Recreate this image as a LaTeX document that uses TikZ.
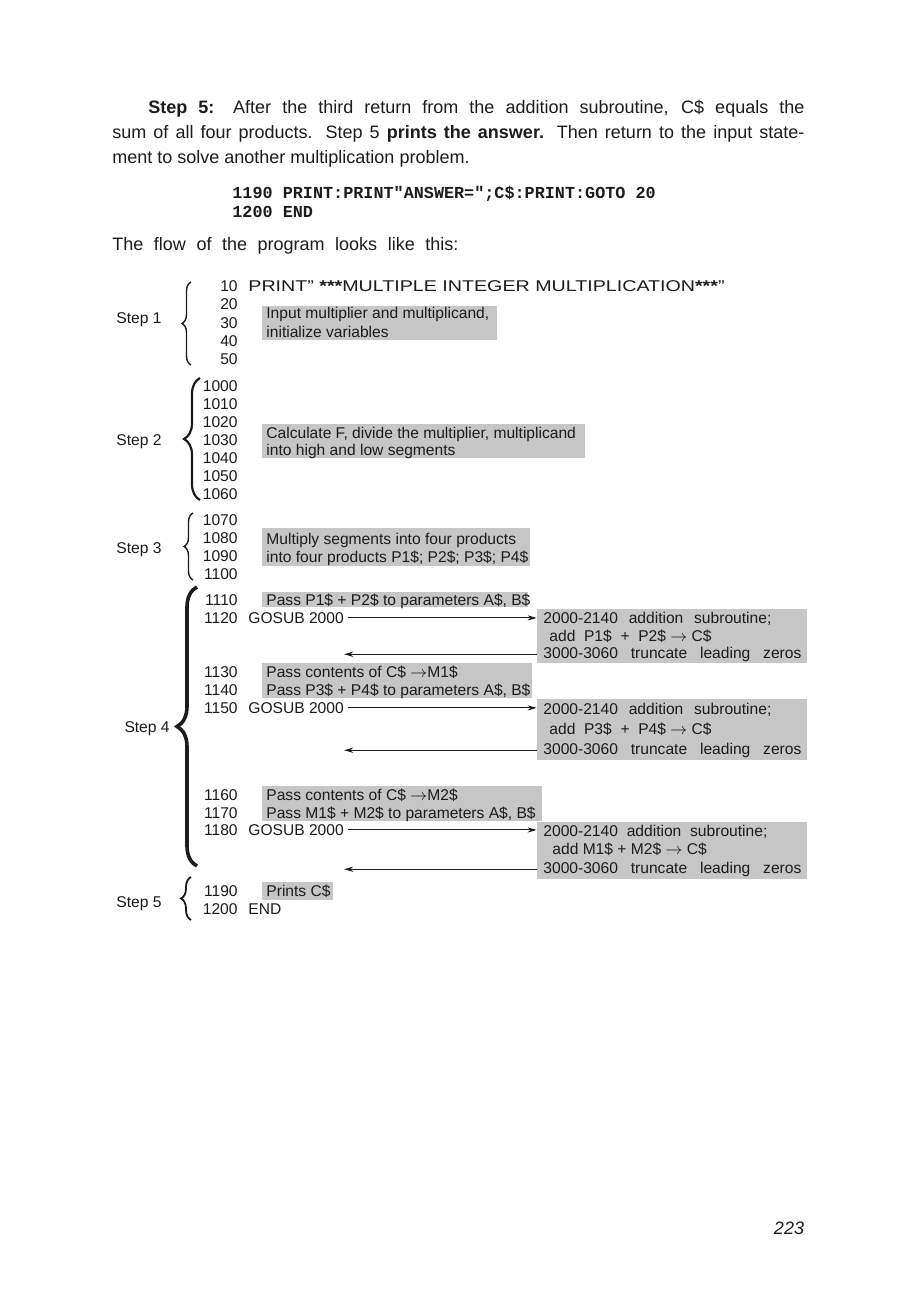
\documentclass[tikz,border=0pt]{standalone}
\usepackage{fontspec}
\setmainfont{Liberation Sans}
\setmonofont{Liberation Mono}
\usetikzlibrary{arrows.meta,positioning,calc,fit,backgrounds,decorations.pathreplacing}
\definecolor{ToneGray}{RGB}{198,198,198}
\definecolor{InkBlack}{RGB}{28,28,28}
\newcommand{\rowfont}{\fontsize{7.8}{9}\selectfont}
\tikzset{
  lnum/.style={anchor=mid east, inner sep=0pt, font=\rowfont, text=InkBlack},
  stmt/.style={anchor=mid west, inner sep=0pt, font=\rowfont, text=InkBlack},
  steplabel/.style={anchor=mid east, inner sep=0pt, font=\rowfont, text=InkBlack},
  tone/.style={fill=ToneGray, draw=none, inner sep=0pt},
  curly/.style={decorate, decoration={brace, amplitude=#1}, draw=InkBlack, line width=0.7pt},
  call/.style={-{Stealth[length=4.5pt,width=2.6pt]}, line width=0.55pt, InkBlack},
}

\begin{document}
\begin{tikzpicture}[x=0.5pt,y=-0.5pt]
  \useasboundingbox[fill=white] (0,0) rectangle (914,1310);

  % running text above the chart
  \node[anchor=north west, inner sep=0pt, text width=346pt, align=justify,
        font=\fontsize{9}{12.5}\selectfont, text=InkBlack] (para) at (112,100)
    {\hspace*{18pt}\textbf{Step 5:} After the third return from the addition subroutine, C\$ equals the\linebreak
     sum of all four products. Step 5 \textbf{prints the answer.} Then return to the input state-\linebreak
     ment to solve another multiplication problem.};
  \node[anchor=mid west, inner sep=0pt, text=InkBlack,
        font=\ttfamily\bfseries\fontsize{8.4}{9}\selectfont] (c1190) at (232,193)
    {1190 PRINT:PRINT"ANSWER=";C\$:PRINT:GOTO 20};
  \node[anchor=mid west, inner sep=0pt, text=InkBlack,
        font=\ttfamily\bfseries\fontsize{8.4}{9}\selectfont] (c1200) at (232,212)
    {1200 END};
  \node[anchor=mid west, inner sep=0pt, text=InkBlack,
        font=\fontsize{9}{12.5}\selectfont] (flow) at (112,245)
    {\makebox[173pt][s]{The flow of the program looks like this:}};

  % shaded comment boxes
  \node[tone, fit={(262,306) (497,340)}] (t1) {};
  \node[tone, fit={(262,424) (585,458)}] (t2) {};
  \node[tone, fit={(262,528) (530,566)}] (t3) {};
  \node[tone, fit={(262,592) (528,607)}] (t4) {};
  \node[tone, fit={(262,663) (532,698)}] (t5) {};
  \node[tone, fit={(262,786) (542,821)}] (t6) {};
  \node[tone, fit={(262,882) (333,900)}] (t7) {};
  \node[tone, fit={(537,609) (807,663)}] (r1) {};
  \node[tone, fit={(537,699) (807,760)}] (r2) {};
  \node[tone, fit={(537,822) (807,879)}] (r3) {};

  % line numbers
  \foreach \n/\y in {10/286, 20/304, 30/323, 40/341, 50/359,
                     1000/386, 1010/404, 1020/422, 1030/440, 1040/458, 1050/476, 1060/494,
                     1070/520, 1080/538, 1090/556, 1100/574,
                     1110/600, 1120/618, 1130/672, 1140/690, 1150/708,
                     1160/795, 1170/813, 1180/830, 1190/891, 1200/909}{
    \node[lnum] (n\n) at (238,\y) {\n};
  }

  % statements and comments
  \node[stmt] (s10) at (248,286)
    {\scalebox{1.26}[1]{PRINT'' \textbf{***}MULTIPLE INTEGER MULTIPLICATION\textbf{***}''}};
  \node[stmt] (t1a) at (266,313) {Input multiplier and multiplicand,};
  \node[stmt] (t1b) at (266,332) {initialize variables};
  \node[stmt] (t2a) at (266,433) {Calculate F, divide the multiplier, multiplicand};
  \node[stmt] (t2b) at (266,450) {into high and low segments};
  \node[stmt] (t3a) at (266,539) {Multiply segments into four products};
  \node[stmt] (t3b) at (266,557) {into four products P1\$; P2\$; P3\$; P4\$};
  \node[stmt] (t4a) at (266,600) {Pass P1\$ + P2\$ to parameters A\$, B\$};
  \node[stmt] (g1120) at (248,618) {GOSUB 2000};
  \node[stmt] (t5a) at (266,672) {Pass contents of C\$ $\rightarrow$M1\$};
  \node[stmt] (t5b) at (266,690) {Pass P3\$ + P4\$ to parameters A\$, B\$};
  \node[stmt] (g1150) at (248,708) {GOSUB 2000};
  \node[stmt] (t6a) at (266,795) {Pass contents of C\$ $\rightarrow$M2\$};
  \node[stmt] (t6b) at (266,813) {Pass M1\$ + M2\$ to parameters A\$, B\$};
  \node[stmt] (g1180) at (248,830) {GOSUB 2000};
  \node[stmt] (t7a) at (266,891) {Prints C\$};
  \node[stmt] (e1200) at (248,909) {END};

  % subroutine boxes
  \node[stmt] (r1a) at (543,618) {\makebox[114pt][s]{2000-2140 addition subroutine;}};
  \node[stmt] (r1b) at (549,636) {add \ P1\$ \ + \ P2\$ $\rightarrow$ C\$};
  \node[stmt] (r1c) at (543,653) {\makebox[129pt][s]{3000-3060 truncate leading zeros}};
  \node[stmt] (r2a) at (543,709) {\makebox[114pt][s]{2000-2140 addition subroutine;}};
  \node[stmt] (r2b) at (549,729) {add \ P3\$ \ + \ P4\$ $\rightarrow$ C\$};
  \node[stmt] (r2c) at (543,749) {\makebox[129pt][s]{3000-3060 truncate leading zeros}};
  \node[stmt] (r3a) at (543,831) {\makebox[112pt][s]{2000-2140 addition subroutine;}};
  \node[stmt] (r3b) at (552,849) {add M1\$ + M2\$ $\rightarrow$ C\$};
  \node[stmt] (r3c) at (543,868) {\makebox[129pt][s]{3000-3060 truncate leading zeros}};

  % calls and returns
  \draw[call, shorten <=2pt] (g1120) -- (g1120 -| r1.west);
  \draw[call] (r1.west |- r1c) -- (g1120.east |- r1c);
  \draw[call, shorten <=2pt] (g1150) -- (g1150 -| r2.west);
  \draw[call] (r2.west |- r2c) -- (g1150.east |- r2c);
  \draw[call, shorten <=2pt] (g1180) -- (g1180 -| r3.west);
  \draw[call] (r3.west |- r3c) -- (g1180.east |- r3c);

  % braces and step labels
  \draw[curly=4.5pt] (191,365) -- (191,282);
  \node[steplabel] (st1) at (162,318) {Step 1};
  \draw[curly=8pt, line width=1.1pt] (200,500) -- (200,378);
  \node[steplabel] (st2) at (162,440) {Step 2};
  \draw[curly=4.5pt] (193,580) -- (193,513);
  \node[steplabel] (st3) at (162,548) {Step 3};
  \draw[curly=10pt, line width=1.8pt] (197,866) -- (197,587);
  \node[steplabel] (st4) at (170,727) {Step 4};
  \draw[curly=5pt, line width=0.9pt] (191,920) -- (191,877);
  \node[steplabel] (st5) at (162,902) {Step 5};

  % folio
  \node[inner sep=0pt, font=\itshape\fontsize{9}{10}\selectfont, text=InkBlack] (folio) at (789,1228) {223};
\end{tikzpicture}
\end{document}
